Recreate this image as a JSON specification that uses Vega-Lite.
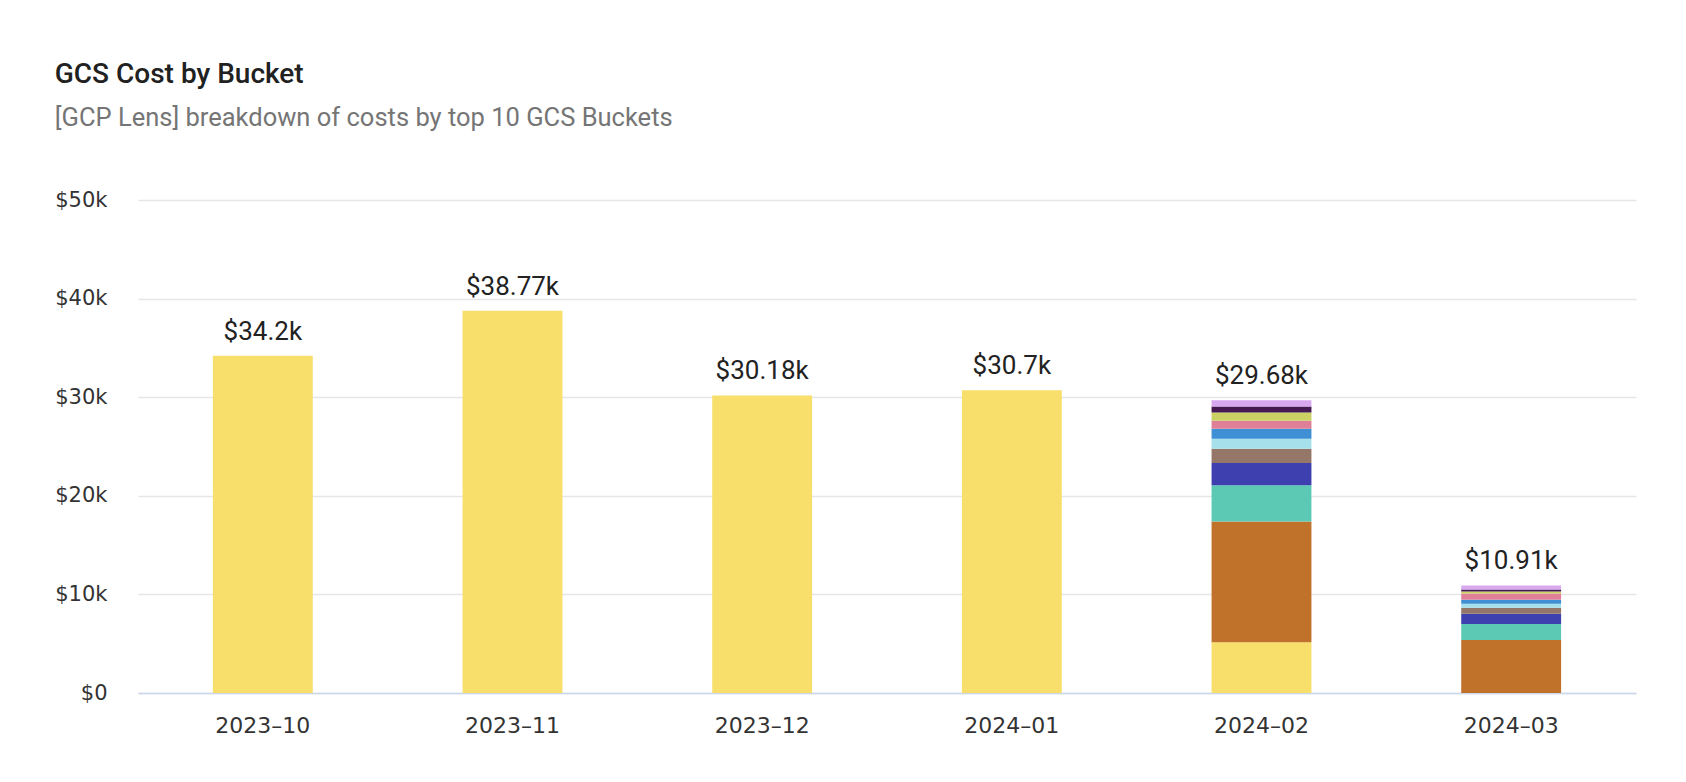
{
  "$schema": "https://vega.github.io/schema/vega-lite/v6.json",
  "width": 1498,
  "height": 493,
  "autosize": {"type": "none"},
  "padding": {"left": 138, "top": 200, "right": 50, "bottom": 89},
  "background": "white",
  "title": {
    "text": "GCS Cost by Bucket",
    "subtitle": "[GCP Lens] breakdown of costs by top 10 GCS Buckets",
    "anchor": "start",
    "frame": "bounds",
    "font": "Roboto",
    "fontSize": 28,
    "fontWeight": 500,
    "color": "#212121",
    "subtitleFont": "Roboto",
    "subtitleFontSize": 25.5,
    "subtitleColor": "#757575",
    "subtitlePadding": 17,
    "offset": 58
  },
  "data": {
    "values": [
      {"month": "2023-10", "bucket": "bucket-00", "cost": 34200},
      {"month": "2023-11", "bucket": "bucket-00", "cost": 38770},
      {"month": "2023-12", "bucket": "bucket-00", "cost": 30180},
      {"month": "2024-01", "bucket": "bucket-00", "cost": 30700},
      {"month": "2024-02", "bucket": "bucket-00", "cost": 5140},
      {"month": "2024-02", "bucket": "bucket-01", "cost": 12260},
      {"month": "2024-02", "bucket": "bucket-02", "cost": 3680},
      {"month": "2024-02", "bucket": "bucket-03", "cost": 2250},
      {"month": "2024-02", "bucket": "bucket-04", "cost": 1430},
      {"month": "2024-02", "bucket": "bucket-05", "cost": 1020},
      {"month": "2024-02", "bucket": "bucket-06", "cost": 1020},
      {"month": "2024-02", "bucket": "bucket-07", "cost": 820},
      {"month": "2024-02", "bucket": "bucket-08", "cost": 820},
      {"month": "2024-02", "bucket": "bucket-09", "cost": 610},
      {"month": "2024-02", "bucket": "bucket-10", "cost": 630},
      {"month": "2024-03", "bucket": "bucket-01", "cost": 5370},
      {"month": "2024-03", "bucket": "bucket-02", "cost": 1640},
      {"month": "2024-03", "bucket": "bucket-03", "cost": 1020},
      {"month": "2024-03", "bucket": "bucket-04", "cost": 620},
      {"month": "2024-03", "bucket": "bucket-05", "cost": 410},
      {"month": "2024-03", "bucket": "bucket-06", "cost": 410},
      {"month": "2024-03", "bucket": "bucket-07", "cost": 620},
      {"month": "2024-03", "bucket": "bucket-08", "cost": 200},
      {"month": "2024-03", "bucket": "bucket-09", "cost": 200},
      {"month": "2024-03", "bucket": "bucket-10", "cost": 420}
    ]
  },
  "encoding": {
    "x": {
      "field": "month",
      "type": "ordinal",
      "scale": {"paddingInner": 0.6, "paddingOuter": 0.3},
      "axis": {
        "title": null,
        "labelAngle": 0,
        "labelFont": "DejaVu Sans",
        "labelFontSize": 22,
        "labelColor": "#333333",
        "labelPadding": 22,
        "labelExpr": "replace(datum.label, '-', '–')",
        "ticks": false,
        "domainColor": "#ccd6eb",
        "domainWidth": 1.5,
        "grid": false
      }
    }
  },
  "layer": [
    {
      "mark": {"type": "bar"},
      "encoding": {
        "y": {
          "aggregate": "sum",
          "field": "cost",
          "type": "quantitative",
          "stack": "zero",
          "scale": {"domain": [0, 50000], "nice": false},
          "axis": {
            "title": null,
            "values": [0, 10000, 20000, 30000, 40000, 50000],
            "labelExpr": "datum.value == 0 ? '$0' : '$' + (datum.value / 1000) + 'k'",
            "labelFont": "DejaVu Sans",
            "labelFontSize": 21,
            "labelColor": "#333333",
            "labelPadding": 31,
            "ticks": false,
            "domain": false,
            "gridColor": "#e6e6e6",
            "gridWidth": 1.5
          }
        },
        "color": {
          "field": "bucket",
          "type": "nominal",
          "scale": {
            "domain": ["bucket-00", "bucket-01", "bucket-02", "bucket-03", "bucket-04", "bucket-05", "bucket-06", "bucket-07", "bucket-08", "bucket-09", "bucket-10"],
            "range": ["#F8DE6A", "#C0722A", "#5BC9B4", "#3D40AE", "#947769", "#A6E0EA", "#3E8FD3", "#DF7F98", "#CBD162", "#451A52", "#D8A8F0"]
          },
          "legend": null
        },
        "order": {"field": "bucket", "type": "ordinal", "sort": "ascending"}
      }
    },
    {
      "transform": [
        {"aggregate": [{"op": "sum", "field": "cost", "as": "total"}], "groupby": ["month"]}
      ],
      "mark": {
        "type": "text",
        "font": "Roboto",
        "fontSize": 26,
        "color": "#222222",
        "baseline": "alphabetic",
        "dy": -16
      },
      "encoding": {
        "y": {"field": "total", "type": "quantitative"},
        "text": {"field": "total", "type": "quantitative", "format": "$.4~s"}
      }
    }
  ],
  "config": {
    "view": {"stroke": null}
  }
}
